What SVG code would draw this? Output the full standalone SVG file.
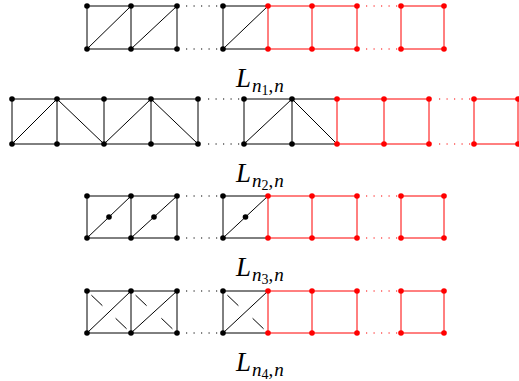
<svg xmlns="http://www.w3.org/2000/svg" width="519" height="381" viewBox="0 0 519 381">
<style>
.k{stroke:#000;stroke-width:1;fill:none}
.r{stroke:#f00;stroke-width:1;fill:none}
.kd{stroke:#000;stroke-width:1.2;stroke-dasharray:1.2 6.3;fill:none}
.rd{stroke:#f00;stroke-width:1.2;stroke-dasharray:1.2 6.3;fill:none}
.vk{fill:#000}
.vr{fill:#f00}
.lab{font-family:"Liberation Serif",serif;font-style:italic;fill:#000;font-size:27px}
.s1{font-size:19px}
.s2{font-size:14px;font-style:normal}
.up{font-style:normal}
</style>
<rect width="519" height="381" fill="#fff"/>
<g id="connectors">
<g id="edges-1">
<path class="k" d="M87 6H177M87 49H177M87 6V49M131 6V49M177 6V49M87 49L131 6M131 49L177 6M223 6H268M223 49H268M223 6V49M223 49L268 6"/>
<path class="kd" d="M186 6H219M186 49H219"/>
<path class="r" d="M268 6H357M268 49H357M268 6V49M312 6V49M357 6V49M401 6H444M401 49H444M401 6V49M444 6V49"/>
<path class="rd" d="M366 6H398M366 49H398"/>
</g>
<g id="edges-2">
<path class="k" d="M12 99H198M12 144H198M12 99V144M57 99V144M104 99V144M151 99V144M198 99V144M12 144L57 99L104 144L151 99L198 144M244 99H337M244 144H337M244 99V144M292 99V144M244 144L292 99L337 144"/>
<path class="kd" d="M208 99H240M208 144H240"/>
<path class="r" d="M337 99H429M337 144H429M337 99V144M384 99V144M429 99V144M474 99H519M474 144H519M474 99V144M518 99V144"/>
<path class="rd" d="M439 99H471M439 144H471"/>
</g>
<g id="edges-3">
<path class="k" d="M87 196H177M87 238H177M87 196V238M131 196V238M177 196V238M87 238L131 196M131 238L177 196M223 196H268M223 238H268M223 196V238M223 238L268 196"/>
<path class="kd" d="M186 196H219M186 238H219"/>
<path class="r" d="M268 196H357M268 238H357M268 196V238M312 196V238M357 196V238M401 196H444M401 238H444M401 196V238M444 196V238"/>
<path class="rd" d="M366 196H398M366 238H398"/>
</g>
<g id="edges-4">
<path class="k" d="M87 291H177M87 333H177M87 291V333M131 291V333M177 291V333M87 333L131 291M131 333L177 291M223 291H268M223 333H268M223 291V333M223 333L268 291"/>
<path class="k" d="M91.4 295.2L102.4 305.7M126.6 328.8L115.6 318.3M135.6 295.2L146.6 305.7M172.4 328.8L161.4 318.3M227.4 295.2L238.4 305.7M263.6 328.8L252.6 318.3"/>
<path class="kd" d="M186 291H219M186 333H219"/>
<path class="r" d="M268 291H357M268 333H357M268 291V333M312 291V333M357 291V333M401 291H444M401 333H444M401 291V333M444 291V333"/>
<path class="rd" d="M366 291H398M366 333H398"/>
</g>
</g>
<g id="graph-L1">
<g class="vk"><circle cx="87" cy="6" r="2.8"/><circle cx="131" cy="6" r="2.8"/><circle cx="177" cy="6" r="2.8"/><circle cx="223" cy="6" r="2.8"/><circle cx="87" cy="49" r="2.8"/><circle cx="131" cy="49" r="2.8"/><circle cx="177" cy="49" r="2.8"/><circle cx="223" cy="49" r="2.8"/></g>
<g class="vr"><circle cx="268" cy="6" r="2.8"/><circle cx="312" cy="6" r="2.8"/><circle cx="357" cy="6" r="2.8"/><circle cx="401" cy="6" r="2.8"/><circle cx="444" cy="6" r="2.8"/><circle cx="268" cy="49" r="2.8"/><circle cx="312" cy="49" r="2.8"/><circle cx="357" cy="49" r="2.8"/><circle cx="401" cy="49" r="2.8"/><circle cx="444" cy="49" r="2.8"/></g>
<text class="lab" x="236" y="87">L<tspan class="s1" dx="1" dy="5">n</tspan><tspan class="s2" dy="3">1</tspan><tspan class="s1 up" dy="-3">,</tspan><tspan class="s1" dx="1">n</tspan></text>
</g>
<g id="graph-L2">
<g class="vk"><circle cx="12" cy="99" r="2.8"/><circle cx="57" cy="99" r="2.8"/><circle cx="104" cy="99" r="2.8"/><circle cx="151" cy="99" r="2.8"/><circle cx="198" cy="99" r="2.8"/><circle cx="244" cy="99" r="2.8"/><circle cx="292" cy="99" r="2.8"/><circle cx="12" cy="144" r="2.8"/><circle cx="57" cy="144" r="2.8"/><circle cx="104" cy="144" r="2.8"/><circle cx="151" cy="144" r="2.8"/><circle cx="198" cy="144" r="2.8"/><circle cx="244" cy="144" r="2.8"/><circle cx="292" cy="144" r="2.8"/></g>
<g class="vr"><circle cx="337" cy="99" r="2.8"/><circle cx="384" cy="99" r="2.8"/><circle cx="429" cy="99" r="2.8"/><circle cx="474" cy="99" r="2.8"/><circle cx="518" cy="99" r="2.8"/><circle cx="337" cy="144" r="2.8"/><circle cx="384" cy="144" r="2.8"/><circle cx="429" cy="144" r="2.8"/><circle cx="474" cy="144" r="2.8"/><circle cx="518" cy="144" r="2.8"/></g>
<text class="lab" x="236" y="182">L<tspan class="s1" dx="1" dy="5">n</tspan><tspan class="s2" dy="3">2</tspan><tspan class="s1 up" dy="-3">,</tspan><tspan class="s1" dx="1">n</tspan></text>
</g>
<g id="graph-L3">
<g class="vk"><circle cx="87" cy="196" r="2.8"/><circle cx="131" cy="196" r="2.8"/><circle cx="177" cy="196" r="2.8"/><circle cx="223" cy="196" r="2.8"/><circle cx="87" cy="238" r="2.8"/><circle cx="131" cy="238" r="2.8"/><circle cx="177" cy="238" r="2.8"/><circle cx="223" cy="238" r="2.8"/><circle cx="109" cy="217" r="2.8"/><circle cx="154" cy="217" r="2.8"/><circle cx="245.5" cy="217" r="2.8"/></g>
<g class="vr"><circle cx="268" cy="196" r="2.8"/><circle cx="312" cy="196" r="2.8"/><circle cx="357" cy="196" r="2.8"/><circle cx="401" cy="196" r="2.8"/><circle cx="444" cy="196" r="2.8"/><circle cx="268" cy="238" r="2.8"/><circle cx="312" cy="238" r="2.8"/><circle cx="357" cy="238" r="2.8"/><circle cx="401" cy="238" r="2.8"/><circle cx="444" cy="238" r="2.8"/></g>
<text class="lab" x="236" y="276">L<tspan class="s1" dx="1" dy="5">n</tspan><tspan class="s2" dy="3">3</tspan><tspan class="s1 up" dy="-3">,</tspan><tspan class="s1" dx="1">n</tspan></text>
</g>
<g id="graph-L4">
<g class="vk"><circle cx="87" cy="291" r="2.8"/><circle cx="131" cy="291" r="2.8"/><circle cx="177" cy="291" r="2.8"/><circle cx="223" cy="291" r="2.8"/><circle cx="87" cy="333" r="2.8"/><circle cx="131" cy="333" r="2.8"/><circle cx="177" cy="333" r="2.8"/><circle cx="223" cy="333" r="2.8"/></g>
<g class="vr"><circle cx="268" cy="291" r="2.8"/><circle cx="312" cy="291" r="2.8"/><circle cx="357" cy="291" r="2.8"/><circle cx="401" cy="291" r="2.8"/><circle cx="444" cy="291" r="2.8"/><circle cx="268" cy="333" r="2.8"/><circle cx="312" cy="333" r="2.8"/><circle cx="357" cy="333" r="2.8"/><circle cx="401" cy="333" r="2.8"/><circle cx="444" cy="333" r="2.8"/></g>
<text class="lab" x="236" y="371">L<tspan class="s1" dx="1" dy="5">n</tspan><tspan class="s2" dy="3">4</tspan><tspan class="s1 up" dy="-3">,</tspan><tspan class="s1" dx="1">n</tspan></text>
</g>
</svg>
